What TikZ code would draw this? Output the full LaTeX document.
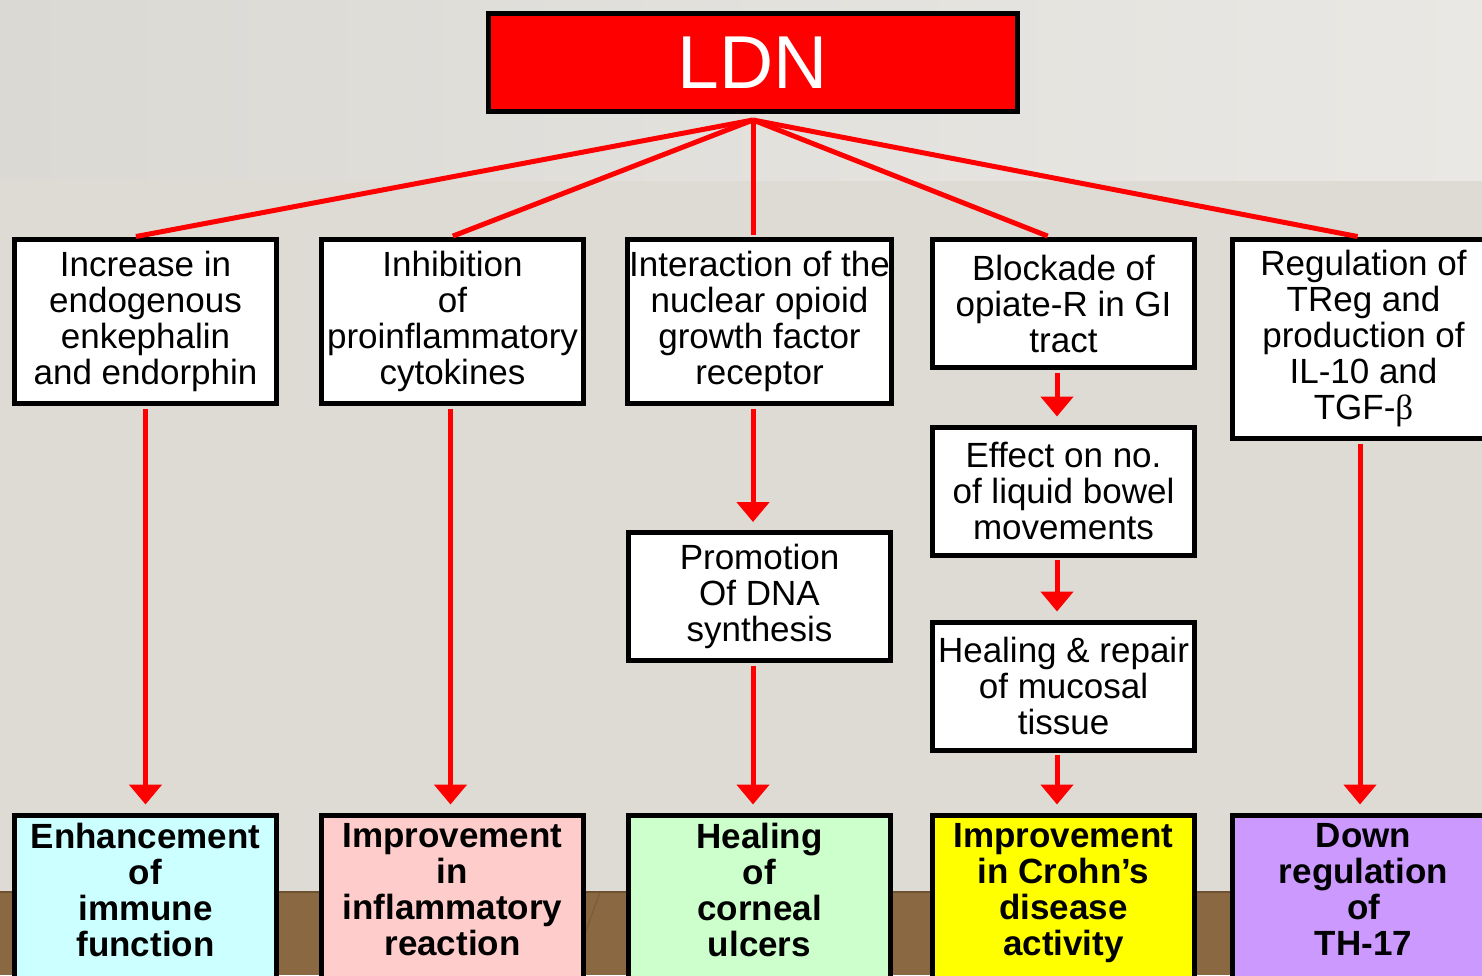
\documentclass[tikz,border=0pt]{standalone}
\usepackage{fontspec}
\setmainfont{Liberation Sans}
\newfontfamily\greekserif{Liberation Serif}
\usepackage{tikz}
\usetikzlibrary{arrows.meta,positioning,calc}

\definecolor{wall}{HTML}{DEDBD5}
\definecolor{wallhi}{HTML}{EAE8E4}
\definecolor{walllo}{HTML}{DBD9D4}
\definecolor{floor}{HTML}{8A6842}
\definecolor{floordark}{HTML}{6E5232}
\definecolor{immcol}{HTML}{CCFFFF}
\definecolor{inflcol}{HTML}{FFCCCC}
\definecolor{ulccol}{HTML}{CCFFCC}
\definecolor{crohncol}{HTML}{FFFF00}
\definecolor{thcol}{HTML}{CC99FF}

\newcommand{\outtext}[1]{\parbox[c][86pt][t]{131pt}{\centering\vspace*{4pt}#1}}

\tikzset{
  cause/.style={draw=black, line width=2.5pt, fill=white, minimum width=131pt,
    inner sep=1pt, align=center, font=\fontsize{17.5}{18}\selectfont},
  effect/.style={draw=black, line width=2.5pt, inner sep=0pt, anchor=north,
    font=\fontsize{17.5}{18}\selectfont\bfseries},
  link/.style={red, line width=2.5pt},
  flow/.style={link, -{Triangle[width=16pt,length=10pt]}, shorten <=1.25pt, shorten >=4pt}
}

\begin{document}
\begin{tikzpicture}[x=0.5pt,y=-0.5pt]
      \useasboundingbox (0,0) rectangle (1482,975);
      \fill[wall] (0,180) rectangle (1482,892);
      \shade[left color=walllo, right color=wallhi] (0,0) rectangle (1482,180);
      \fill[floor] (0,892) rectangle (1482,975);
      \draw[floordark, line width=1pt] (0,892) -- (1482,892);
      \foreach \p in {60,240,420,600,780,960,1140,1320}
        \draw[floordark, line width=0.6pt, opacity=0.5] (\p,892) -- ++(-30,83);

      \node[draw=black, line width=2.5pt, fill=red, minimum width=264.5pt, minimum height=49pt,
        text=white, font=\fontsize{37.5}{40}\selectfont] (ldn) at (753,62.5) {LDN};

      \node[cause, minimum height=82pt] (inc) at (145.5,321.5)
        {Increase in\\endogenous\\enkephalin\\and endorphin};
      \node[cause, minimum height=82pt] (inh) at (452.5,321.5)
        {Inhibition\\of\\proinflammatory\\cytokines};
      \node[cause, minimum height=82pt] (intr) at (759.5,321.5)
        {Interaction of the\\nuclear opioid\\growth factor\\receptor};
      \node[cause, minimum height=64pt] (blk) at (1063.5,303.5)
        {Blockade of\\opiate-R in GI\\tract};
      \node[cause, minimum height=99.5pt] (reg) at (1363.5,339)
        {Regulation of\\TReg and\\production of\\IL-10 and\\TGF-{\greekserif β}};

      \node[cause, minimum height=64pt] (dna) at (759.5,596.5)
        {Promotion\\Of DNA\\synthesis};
      \node[cause, minimum height=64pt] (bowel) at (1063.5,491)
        {Effect on no.\\of liquid bowel\\movements};
      \node[cause, minimum height=64pt] (heal) at (1063.5,686)
        {Healing \& repair\\of mucosal\\tissue};

      \node[effect, fill=immcol] (imm) at (145.5,812.5)
        {\outtext{Enhancement\\of\\immune\\function}};
      \node[effect, fill=inflcol] (infl) at (452.5,812.5)
        {\outtext{Improvement\\in\\inflammatory\\reaction}};
      \node[effect, fill=ulccol] (ulc) at (759.5,812.5)
        {\outtext{Healing\\of\\corneal\\ulcers}};
      \node[effect, fill=crohncol] (crohn) at (1063.5,812.5)
        {\outtext{Improvement\\in Crohn’s\\disease\\activity}};
      \node[effect, fill=thcol] (th) at (1363.5,812.5)
        {\outtext{Down\\regulation\\of\\TH-17}};

      \coordinate (hub) at ([yshift=-3pt]ldn.south);
      \draw[link, shorten >=1.25pt] (hub) -- ([xshift=-6pt]inc.north);
      \draw[link, shorten >=1.25pt] (hub) -- ([xshift=-1pt]inh.north);
      \draw[link, shorten >=1.25pt] (hub) -- ([xshift=-3.25pt]intr.north);
      \draw[link, shorten >=1.25pt] (hub) -- ([xshift=-6.75pt]blk.north);
      \draw[link, shorten >=1.25pt] (hub) -- ([xshift=-1.75pt]reg.north);

      \draw[flow] (inc.south) -- (imm.north);
      \draw[flow] ([xshift=-1pt]inh.south) -- ([xshift=-1pt]infl.north);
      \draw[flow] ([xshift=-3.25pt]intr.south) -- ([xshift=-3.25pt]dna.north);
      \draw[flow] ([xshift=-3.25pt]dna.south) -- ([xshift=-3.25pt]ulc.north);
      \draw[flow] ([xshift=-3.25pt]blk.south) -- ([xshift=-3.25pt]bowel.north);
      \draw[flow] ([xshift=-3.25pt]bowel.south) -- ([xshift=-3.25pt]heal.north);
      \draw[flow] ([xshift=-3.25pt]heal.south) -- ([xshift=-3.25pt]crohn.north);
      \draw[flow] ([xshift=-1.75pt]reg.south) -- ([xshift=-1.75pt]th.north);
    \end{tikzpicture}
\end{document}
